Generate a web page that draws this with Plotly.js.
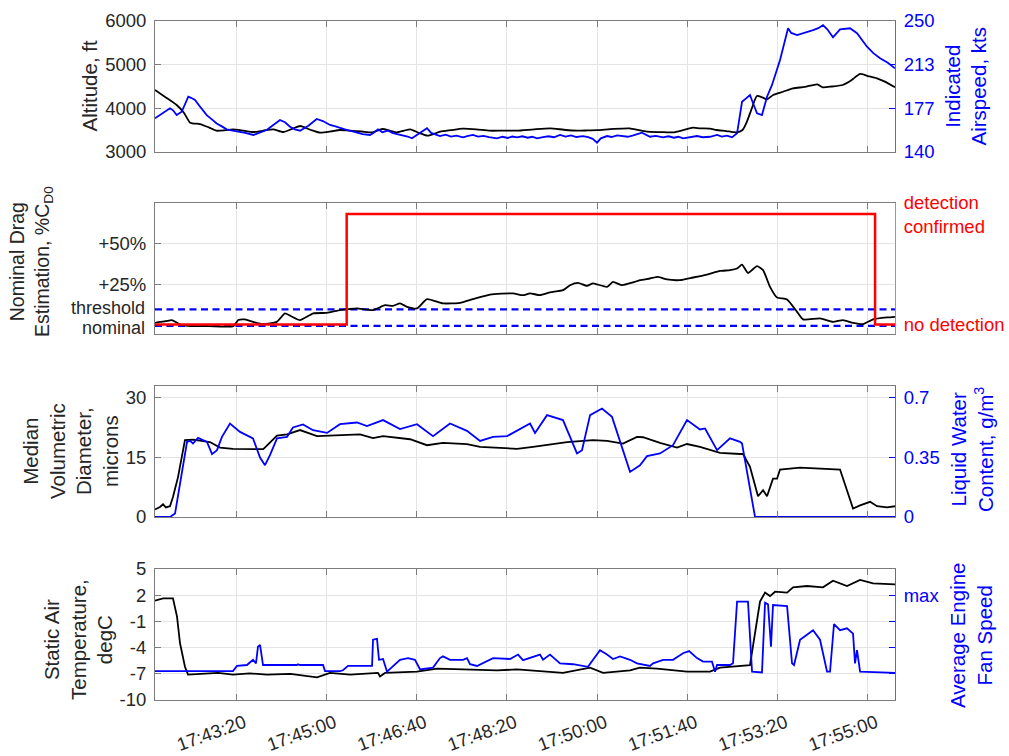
<!DOCTYPE html>
<html>
<head>
<meta charset="utf-8">
<script src="https://cdn.plot.ly/plotly-3.0.1.min.js"></script>
<style>html,body{margin:0;padding:0;background:#fff;}#chart{width:1009px;height:756px;}</style>
</head>
<body>
<div id="chart"></div>
<script>
// time in seconds after 17:41:50
const tickSec = [90, 190, 290, 390, 490, 590, 690, 790];
const tickLabels = ['17:43:20', '17:45:00', '17:46:40', '17:48:20', '17:50:00', '17:51:40', '17:53:20', '17:55:00'];
const timeSpan = [0, 820];

// Panel 1: altitude (ft) and indicated airspeed (kts)
const altT = [0, 12, 24, 32, 39, 50, 60, 68, 78, 86, 98, 109, 120, 131, 142, 152, 161, 172, 183, 195, 205, 216, 229, 241, 252, 260, 268, 276, 283, 292, 302, 316, 328, 341, 356, 371, 386, 401, 420, 438, 453, 468, 480, 490, 508, 526, 536, 545, 560, 574, 585, 596, 604, 615, 622, 633, 644, 651, 656, 661, 667, 673, 678, 685, 696, 707, 720, 734, 740, 750, 762, 772, 781, 790, 800, 810, 820];
const altV = [4420, 4250, 4076, 3900, 3671, 3641, 3560, 3488, 3500, 3520, 3490, 3458, 3490, 3520, 3458, 3530, 3595, 3510, 3442, 3470, 3504, 3488, 3470, 3450, 3527, 3490, 3450, 3490, 3520, 3440, 3373, 3465, 3500, 3535, 3520, 3488, 3490, 3488, 3520, 3542, 3510, 3488, 3495, 3500, 3530, 3542, 3500, 3465, 3455, 3450, 3500, 3557, 3542, 3535, 3504, 3480, 3450, 3504, 3700, 3980, 4282, 4250, 4207, 4305, 4380, 4458, 4490, 4550, 4481, 4500, 4534, 4650, 4786, 4740, 4687, 4600, 4481];
const iasT = [0, 8, 16.6, 20, 24, 29.6, 33, 36.9, 40, 44.3, 50, 57.3, 62, 68.4, 74, 79.4, 86, 94.2, 100, 108.9, 115, 123.8, 130, 138.5, 144, 149.6, 155, 160.7, 170, 179.2, 186, 193.9, 200, 205, 212, 218, 223.8, 230, 238.2, 242, 247.1, 252, 258, 263, 268.2, 275, 280, 284.8, 292, 297, 301.4, 306, 311, 315.8, 322, 328, 334, 341.3, 347, 352.4, 358, 364, 370, 379, 385, 391, 396, 401.2, 407, 413, 418, 423.3, 430, 436, 442, 448.8, 455, 461, 467, 474.3, 480, 485, 489.8, 494, 500.9, 506, 512, 518.6, 524, 530, 535, 539.6, 548.5, 555, 563, 569, 575, 580, 585.1, 592, 600.6, 607, 615, 622.8, 628, 634, 639.4, 645, 650.5, 655, 659.3, 662.7, 667.1, 672.6, 678.2, 683.7, 692.6, 701.5, 705, 711.5, 720, 729.2, 735, 740.2, 745, 751.3, 759.1, 770.2, 777.9, 789, 796, 803.5, 812, 820];
const iasV = [168.3, 172, 176.7, 175, 171, 173.8, 180, 186.4, 185.5, 183.7, 178, 171, 168, 164, 161.5, 159, 158, 157, 156, 154.3, 156, 158.5, 162, 166.9, 165, 161.2, 159, 157.9, 162, 167.7, 166, 162.7, 161.5, 160, 158.5, 157.5, 156.2, 155, 154.3, 156, 159, 156.5, 158, 156, 155, 154, 153, 151.5, 155, 158, 160, 156, 154.5, 153.4, 154.5, 153, 153.8, 152.3, 153.5, 154.3, 153, 153.5, 152.5, 151.5, 152.8, 151.8, 153, 152.3, 153.2, 152, 152.8, 151.5, 152.5, 153.2, 152.4, 154.3, 153, 154, 152.6, 153.4, 152.5, 151, 147.8, 151.5, 153.4, 152.6, 154, 153.4, 152.8, 154, 155, 156.2, 152.8, 153.6, 152.3, 153.2, 152, 152.8, 151.5, 152.6, 153.4, 152.4, 152.8, 154.3, 153, 153.8, 152.3, 155.7, 182.2, 185, 187.9, 180.9, 172.5, 171, 186.4, 196.3, 217.2, 243.9, 240, 238.2, 240, 242.4, 244, 246.6, 243, 236.3, 243, 243.9, 239.7, 228.4, 223, 218.7, 215, 210.3];

// Panel 2: nominal drag estimation (% CD0) and detection state
const dragT = [0, 5.5, 12, 18.5, 24, 29.6, 40.6, 60, 86.8, 92.3, 99.7, 108.9, 120, 134.9, 144.1, 152, 160.7, 175.4, 190.3, 205, 215, 223.8, 241.6, 254.9, 263.7, 271.5, 279.3, 290.3, 301.4, 319.1, 338, 352.4, 371.2, 396.7, 407.8, 415.6, 426.6, 437.7, 452.1, 459.9, 468.8, 478.7, 485.4, 500.9, 507.5, 517.5, 529.7, 537.4, 548.5, 557.4, 567.4, 581.8, 596.2, 611.7, 626.1, 637.2, 645, 650.5, 657.1, 667.1, 673.8, 681.5, 689.3, 700.4, 711.5, 718.1, 736.9, 751.3, 762.4, 773.5, 784.6, 795.7, 811.2, 820];
const dragV = [1.8, 2.4, 2.8, 3.5, 2.0, 0.4, -0.2, -0.2, -0.2, 3.5, 3.9, 2.4, 1.0, 2.4, 7.6, 5.5, 3.5, 7.6, 7.9, 9.6, 10.2, 10.6, 9.6, 12.6, 12.2, 13.7, 11.6, 10.6, 16.3, 13.7, 14, 16.3, 19.1, 19.8, 18.7, 19.8, 18.7, 20.4, 21.8, 24.8, 26.2, 24.4, 25.9, 23.8, 26.8, 24.8, 26.5, 27.9, 28.9, 29.9, 28.3, 27.9, 29.5, 31.3, 33.5, 34, 35, 37.4, 32.3, 36.4, 34, 23.8, 17.3, 16.1, 8.5, 3.9, 4.5, 2.4, 3.5, 1.8, 1.0, 3.9, 5.1, 5.5];
const detT = [0, 212.4, 797.9, 820];
const detV = [0, 1, 0, 0];
const refLevels = [10, 0];   // threshold, nominal
const refLabels = ['threshold', 'nominal'];
const dragTickVals = [25, 50];
const dragTickText = ['+25%', '+50%'];

// Panel 3: median volumetric diameter (microns) and liquid water content (g/m^3)
const mvdT = [0, 5.5, 8.9, 12, 16.6, 19.9, 25.5, 33.2, 42.1, 60.9, 72, 86.4, 120, 135.2, 146.3, 160.7, 179.5, 205, 227.2, 241.6, 252.7, 282.6, 301.4, 319.1, 345.7, 360.2, 390.1, 401.2, 418.9, 456.6, 485.4, 500.9, 518.6, 534.1, 540.7, 559.6, 578.5, 589.5, 603.9, 626.1, 648.3, 651.6, 659.3, 664.9, 668.2, 673.8, 678.2, 684.8, 689.3, 692.6, 714.8, 759.1, 773.5, 781.3, 792.4, 800.1, 811.2, 820];
const mvdV = [1.9, 2.5, 3.2, 2.4, 2.7, 5.0, 10, 19.3, 19.4, 18.8, 17.4, 17.1, 17.0, 20.4, 20.7, 21.8, 20.3, 20.5, 20.7, 19.8, 20.3, 19.5, 18, 18.6, 18.3, 17.6, 17.1, 17.1, 17.6, 18.8, 19.3, 19.1, 18.4, 20.1, 20, 18.6, 17.4, 18.3, 17.6, 16.1, 15.8, 15.8, 12.6, 7.5, 5.2, 6.7, 5.2, 9.6, 9.6, 11.9, 12.4, 11.9, 2.1, 2.9, 3.8, 2.7, 2.4, 2.7];
const lwcT = [0, 16.6, 22.2, 27.7, 35.5, 38.8, 42.1, 47.7, 57.6, 63.2, 68.7, 74.2, 83.1, 94.2, 108.6, 116.4, 121.9, 127.4, 135.2, 146.3, 152.9, 164, 175.1, 190.6, 205, 223.8, 234.9, 252.7, 271.5, 290.3, 308.1, 326.9, 345.7, 360.2, 374.6, 390.1, 415.6, 421.1, 434.4, 452.1, 467.6, 473.2, 482.1, 495.3, 506.4, 526.4, 537.4, 545.2, 559.6, 574, 589.5, 603.9, 609.5, 622.8, 637.2, 648.3, 650.5, 664.9, 820];
const lwcV = [0, 0, 0.02, 0.196, 0.44, 0.445, 0.43, 0.463, 0.44, 0.368, 0.391, 0.469, 0.547, 0.498, 0.46, 0.348, 0.303, 0.362, 0.46, 0.469, 0.524, 0.542, 0.508, 0.492, 0.543, 0.553, 0.532, 0.567, 0.514, 0.543, 0.473, 0.547, 0.504, 0.445, 0.469, 0.473, 0.547, 0.492, 0.596, 0.567, 0.372, 0.391, 0.596, 0.635, 0.586, 0.264, 0.303, 0.356, 0.372, 0.42, 0.567, 0.512, 0.518, 0.391, 0.46, 0.44, 0.43, 0, 0];

// Panel 4: static air temperature (degC) and average engine fan speed (fraction of max)
const satT = [0, 8.9, 19.9, 24.4, 27.7, 33.2, 36.6, 49.9, 70, 86.4, 105, 124.1, 150, 179.5, 193.9, 216.1, 247.1, 249.3, 254.9, 290.3, 312.5, 341.3, 379, 401.2, 452.1, 482.1, 496.5, 526.4, 537.4, 556.3, 589.5, 615, 626.1, 659.3, 664.9, 670.4, 676, 681.5, 687.1, 700.4, 707, 722.5, 740.2, 751.3, 766.8, 781.3, 795.7, 820];
const satV = [1.37, 1.64, 1.64, -0.46, -3.5, -6.2, -7.1, -7.0, -6.9, -7.1, -6.95, -7.1, -7.0, -7.4, -6.9, -7.1, -6.9, -7.3, -6.9, -6.76, -6.4, -6.5, -6.6, -6.5, -6.9, -6.3, -6.9, -6.6, -6.3, -6.4, -6.76, -6.76, -6.3, -6.0, -2.36, 1.26, 2.3, 1.9, 2.4, 2.3, 2.9, 3.05, 2.9, 3.66, 3.05, 3.74, 3.36, 3.24];
const fanT = [0, 86.4, 90.9, 101.9, 108.6, 111.9, 114.1, 116.4, 119.7, 157.4, 158.5, 160.7, 186.2, 188.4, 205, 208.3, 213.9, 240.5, 241.6, 246, 248.2, 252.7, 257.1, 262.6, 271.5, 280.4, 288.1, 293.7, 308.1, 315.8, 319.1, 326.9, 341.3, 345.7, 349.1, 356.8, 374.6, 393.4, 402.3, 407.8, 415.6, 426.6, 430, 437.7, 448.8, 463.2, 479.8, 493.1, 500.9, 507.5, 515.3, 526.4, 534.1, 548.5, 551.9, 563, 574, 585.1, 591.8, 600.6, 607.3, 617.2, 620.6, 622.8, 637.2, 640.5, 645, 657.1, 661.6, 672.6, 676, 679.3, 682.6, 684.8, 700.4, 705.9, 708.1, 714.8, 729.2, 736.9, 744.7, 748, 752.4, 759.1, 766.8, 773.5, 775.7, 777.9, 781.3, 820];
const fanV = [0.421, 0.421, 0.46, 0.467, 0.507, 0.48, 0.607, 0.62, 0.467, 0.467, 0.473, 0.467, 0.467, 0.421, 0.421, 0.427, 0.46, 0.46, 0.66, 0.667, 0.507, 0.513, 0.416, 0.453, 0.507, 0.52, 0.507, 0.433, 0.447, 0.52, 0.533, 0.507, 0.507, 0.52, 0.473, 0.46, 0.52, 0.513, 0.547, 0.504, 0.52, 0.547, 0.507, 0.547, 0.48, 0.473, 0.453, 0.58, 0.547, 0.513, 0.533, 0.507, 0.48, 0.46, 0.48, 0.507, 0.507, 0.557, 0.573, 0.52, 0.493, 0.493, 0.416, 0.467, 0.467, 0.48, 0.951, 0.951, 0.416, 0.41, 0.943, 0.93, 0.607, 0.925, 0.917, 0.48, 0.467, 0.66, 0.733, 0.66, 0.416, 0.416, 0.78, 0.733, 0.747, 0.707, 0.48, 0.58, 0.416, 0.407];

const BLUE = '#0000ff', RED = '#ff0000', BLACK = '#000000';
const AX = '#7d7d7d', GRID = '#e4e4e4', TXT = '#262626';
const FONT = 'Liberation Sans, Arial, Helvetica, sans-serif';
const TICKF = 18.5, XTICKF = 18.5, TITLEF = 20.5;

const traces = [
  {x: iasT, y: iasV, xaxis: 'x', yaxis: 'y2', mode: 'lines', line: {color: BLUE, width: 1.8}},
  {x: altT, y: altV, xaxis: 'x', yaxis: 'y', mode: 'lines', line: {color: BLACK, width: 1.8, shape: 'spline', smoothing: 0.6}},
  {x: [timeSpan[0], timeSpan[1]], y: [refLevels[0], refLevels[0]], xaxis: 'x2', yaxis: 'y3', mode: 'lines', line: {color: BLUE, width: 2.3, dash: '7px,4.5px'}},
  {x: [timeSpan[0], timeSpan[1]], y: [refLevels[1], refLevels[1]], xaxis: 'x2', yaxis: 'y3', mode: 'lines', line: {color: BLUE, width: 2.3, dash: '7px,4.5px'}},
  {x: dragT, y: dragV, xaxis: 'x2', yaxis: 'y3', mode: 'lines', line: {color: BLACK, width: 1.8, shape: 'spline', smoothing: 0.5}},
  {x: detT, y: detV, xaxis: 'x2', yaxis: 'y4', mode: 'lines', line: {color: RED, width: 2.5, shape: 'hv'}},
  {x: lwcT, y: lwcV, xaxis: 'x3', yaxis: 'y6', mode: 'lines', line: {color: BLUE, width: 1.8}},
  {x: mvdT, y: mvdV, xaxis: 'x3', yaxis: 'y5', mode: 'lines', line: {color: BLACK, width: 1.8}},
  {x: fanT, y: fanV, xaxis: 'x4', yaxis: 'y8', mode: 'lines', line: {color: BLUE, width: 1.8}},
  {x: satT, y: satV, xaxis: 'x4', yaxis: 'y7', mode: 'lines', line: {color: BLACK, width: 1.8}}
];

function xAxis(anchor, showLabels) {
  return {
    domain: [0, 1], anchor: anchor, range: timeSpan, tickmode: 'array', tickvals: tickSec, ticktext: tickLabels,
    showticklabels: showLabels, tickangle: -20, tickfont: {family: FONT, size: XTICKF, color: TXT},
    ticklabelshift: 8, ticklabelstandoff: 4,
    ticks: 'inside', ticklen: 6, tickcolor: AX, showline: true, linecolor: AX, linewidth: 1, mirror: 'ticks',
    showgrid: true, gridcolor: GRID, gridwidth: 1, zeroline: false
  };
}
function leftAxis(anchor, domain, range, vals, text) {
  return {
    domain: domain, anchor: anchor, range: range, tickmode: 'array', tickvals: vals, ticktext: text,
    tickfont: {family: FONT, size: TICKF, color: TXT}, ticks: 'inside', ticklen: 6, tickcolor: AX,
    showline: true, linecolor: AX, linewidth: 1, showgrid: true, gridcolor: GRID, gridwidth: 1, zeroline: false,
    ticklabelstandoff: 4
  };
}
function rightAxis(anchor, overlay, range, vals, text, color, lineColor, ticks) {
  return {
    anchor: anchor, overlaying: overlay, side: 'right', range: range, tickmode: 'array', tickvals: vals, ticktext: text,
    tickfont: {family: FONT, size: TICKF, color: color}, ticks: ticks, ticklen: 6, tickcolor: color,
    showline: true, linecolor: lineColor, linewidth: 1, showgrid: false, zeroline: false, ticklabelstandoff: 4
  };
}

const fanAxis = rightAxis('x4', 'y7', [0.2, 1.2], [1.0], ['max'], BLUE, '#5c5cff', 'inside');
fanAxis.minor = {tick0: 0.4, dtick: 0.2, ticks: 'inside', ticklen: 6, tickcolor: BLUE, showgrid: false};

// pixel helpers for annotation placement (paper coordinates)
const L = 155, PW = 740, T = 20, PH = 680;
const px2x = p => (p - L) / PW;
const px2y = p => 1 - (p - T) / PH;

const titleAnn = [
  {text: 'Altitude, ft', x: 89, y: 86.5, color: TXT, size: TITLEF},
  {text: 'Indicated<br>Airspeed, kts', x: 966, y: 86.5, color: BLUE, size: TITLEF},
  {text: 'Nominal Drag<br>Estimation, %C<sub>D0</sub>', x: 31, y: 262, color: TXT, size: 19.5},
  {text: 'Median<br>Volumetric<br>Diameter,<br>microns', x: 70, y: 451, color: TXT, size: TITLEF},
  {text: 'Liquid Water<br>Content, g/m<sup>3</sup>', x: 972, y: 450, color: BLUE, size: TITLEF},
  {text: 'Static Air<br>Temperature,<br>degC', x: 78, y: 640, color: TXT, size: TITLEF},
  {text: 'Average Engine<br>Fan Speed', x: 971, y: 635, color: BLUE, size: TITLEF}
];

const annotations = titleAnn.map(a => ({
  text: a.text, x: px2x(a.x), y: px2y(a.y), xref: 'paper', yref: 'paper', showarrow: false, textangle: -90,
  xanchor: 'center', yanchor: 'middle', align: 'center', font: {family: FONT, size: a.size, color: a.color}
}));
// reference level labels on drag axis (left of the plot)
annotations.push({text: refLabels[0], x: 0, xref: 'paper', y: refLevels[0], yref: 'y3', xanchor: 'right', yanchor: 'middle',
  xshift: -8, yshift: 1.5, showarrow: false, font: {family: FONT, size: 18, color: TXT}});
annotations.push({text: refLabels[1], x: 0, xref: 'paper', y: refLevels[1], yref: 'y3', xanchor: 'right', yanchor: 'middle',
  xshift: -8, yshift: -2.5, showarrow: false, font: {family: FONT, size: 18, color: TXT}});

const layout = {
  width: 1009, height: 756,
  margin: {l: 155, r: 114, t: 20, b: 56},
  paper_bgcolor: '#ffffff', plot_bgcolor: '#ffffff',
  showlegend: false,
  font: {family: FONT, color: TXT},
  xaxis: xAxis('y', false),
  xaxis2: xAxis('y3', false),
  xaxis3: xAxis('y5', false),
  xaxis4: xAxis('y7', true),
  yaxis: leftAxis('x', [0.80588, 0.99853], [3000, 6000], [3000, 4000, 5000, 6000], ['3000', '4000', '5000', '6000']),
  yaxis2: rightAxis('x', 'y', [140, 250], [140, 176.667, 213.333, 250], ['140', '177', '213', '250'], BLUE, '#5c5cff', 'inside'),
  yaxis3: leftAxis('x2', [0.53824, 0.73088], [-5, 75], dragTickVals, dragTickText),
  yaxis4: rightAxis('x2', 'y3', [-0.086, 1.1], [0, 1], ['no detection', 'detection<br>confirmed'], RED, '#ff6a6a', ''),
  yaxis5: leftAxis('x3', [0.26912, 0.46176], [0, 32.85], [0, 15, 30], ['0', '15', '30']),
  yaxis6: rightAxis('x3', 'y5', [0, 0.7665], [0, 0.35, 0.7], ['0', '0.35', '0.7'], BLUE, '#5c5cff', 'inside'),
  yaxis7: leftAxis('x4', [0, 0.19265], [-10, 5], [-10, -7, -4, -1, 2, 5], ['-10', '-7', '-4', '-1', '2', '5']),
  yaxis8: fanAxis,
  annotations: annotations
};

Plotly.newPlot('chart', traces, layout, {displayModeBar: false, staticPlot: true});
</script>
</body>
</html>
